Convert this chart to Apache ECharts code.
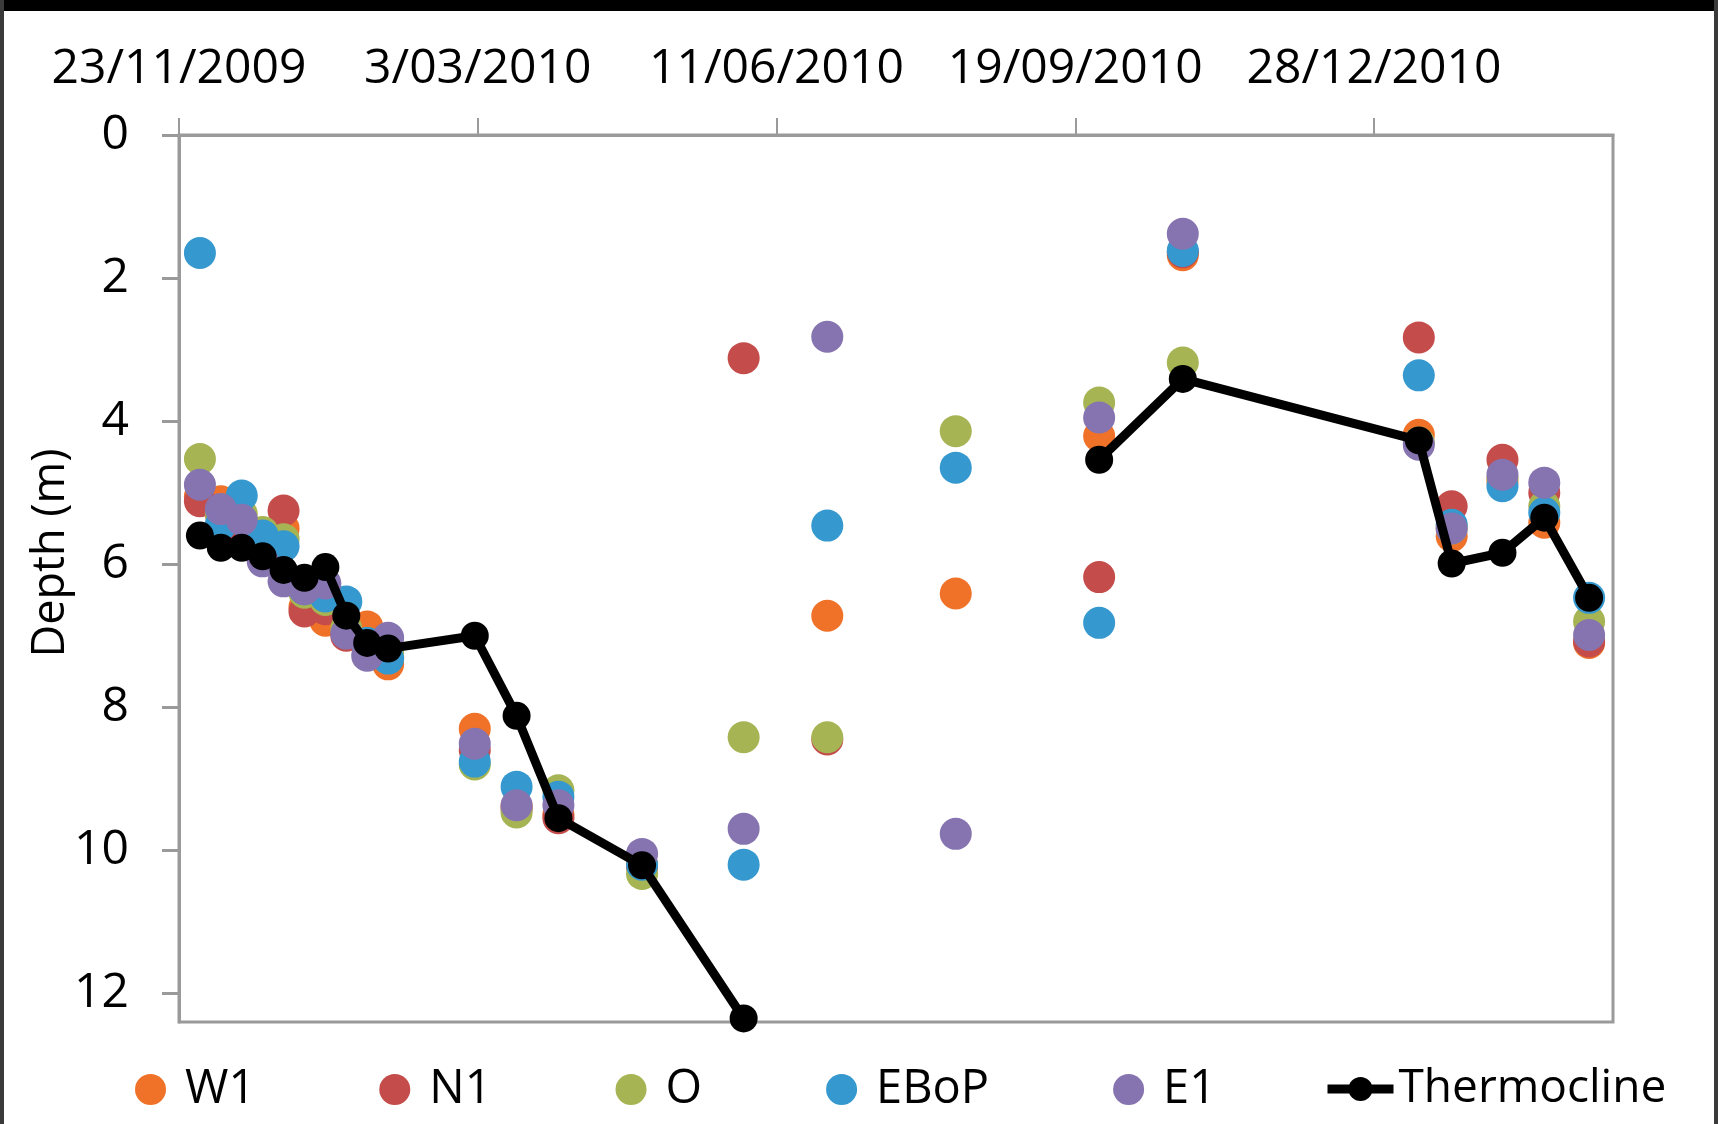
<!DOCTYPE html>
<html lang="en">
  <head>
    <meta charset="UTF-8" />
    <title>Thermocline depth</title>
    <script src="https://cdn.jsdelivr.net/npm/echarts@6/dist/echarts.min.js"></script>
    <style>
      html, body { margin: 0; padding: 0; background: #fff; }
      #main { width: 1718px; height: 1124px; }
    </style>
  </head>
  <body>
    <div id="main"></div>
    <script>
      // sampling dates
      const sampleDates = [
        '2009-11-30', '2009-12-07', '2009-12-14', '2009-12-21', '2009-12-28',
        '2010-01-04', '2010-01-11', '2010-01-18', '2010-01-25', '2010-02-01',
        '2010-03-02', '2010-03-16', '2010-03-30', '2010-04-27', '2010-05-31',
        '2010-06-28', '2010-08-10', '2010-09-27', '2010-10-25', '2011-01-12',
        '2011-01-23', '2011-02-09', '2011-02-23', '2011-03-10'
      ];
      // depth (m) per site, null = no value
      const w1 = [5.05, 5.12, 5.45, 5.7, 5.5, 6.6, 6.79, 6.9, 6.87, 7.4, 8.3, 9.38, 9.5, 10.2, null, 6.72, 6.41, 4.21, 1.68, 4.19, 5.61, 4.85, 5.42, 7.1];
      const n1 = [5.12, 5.3, 5.58, 5.75, 5.25, 6.66, 6.63, 7.0, 7.15, 7.3, 8.6, 9.42, 9.55, 10.23, 3.12, 8.45, null, 6.18, 1.64, 2.83, 5.19, 4.54, 5.0, 7.08];
      const o = [4.53, 5.3, 5.3, 5.55, 5.65, 6.4, 6.5, 6.9, 7.1, 7.25, 8.8, 9.47, 9.16, 10.33, 8.42, 8.42, 4.14, 3.74, 3.18, 4.3, 5.5, 4.8, 5.19, 6.8];
      const ebop = [1.65, 5.45, 5.04, 5.6, 5.75, 6.35, 6.45, 6.52, 7.1, 7.32, 8.76, 9.11, 9.25, 10.2, 10.2, 5.46, 4.65, 6.82, 1.62, 3.36, 5.45, 4.91, 5.28, 6.47];
      const e1 = [4.89, 5.23, 5.38, 5.96, 6.24, 6.35, 6.27, 6.97, 7.28, 7.03, 8.51, 9.37, 9.37, 10.05, 9.7, 2.82, 9.77, 3.95, 1.38, 4.33, 5.5, 4.75, 4.86, 6.99];
      const thermocline = [5.6, 5.77, 5.77, 5.89, 6.08, 6.19, 6.04, 6.72, 7.1, 7.18, 7.0, 8.12, 9.55, 10.21, 12.35, null, null, 4.54, 3.41, 4.27, 5.99, 5.84, 5.35, 6.47];

      // axis: days counted from the first date tick
      const startDate = '2009-11-23';
      const dateTicks = [0, 100, 200, 300, 400];
      const depthTicks = [0, 2, 4, 6, 8, 10, 12];

      const seriesNames = ['W1', 'N1', 'O', 'EBoP', 'E1'];
      const seriesValues = [w1, n1, o, ebop, e1];
      const colors = ['#F07229', '#C44C4A', '#A6B453', '#3598CE', '#8674B0'];

      const font = '"Open Sans", "Liberation Sans", sans-serif';
      const DAY = 86400000;

      function toMs(s) {
        const p = s.split('-').map(Number);
        return Date.UTC(p[0], p[1] - 1, p[2]);
      }
      function toDay(s) {
        return Math.round((toMs(s) - toMs(startDate)) / DAY);
      }
      function dayLabel(v) {
        const d = new Date(toMs(startDate) + v * DAY);
        const mm = String(d.getUTCMonth() + 1).padStart(2, '0');
        return d.getUTCDate() + '/' + mm + '/' + d.getUTCFullYear();
      }

      const series = seriesNames.map((name, k) => ({
        name: name,
        type: 'scatter',
        symbol: 'circle',
        symbolSize: 32,
        itemStyle: { color: colors[k], opacity: 1 },
        data: sampleDates
          .map((d, i) => [toDay(d), seriesValues[k][i]])
          .filter(p => p[1] !== null)
      }));
      series.push({
        name: 'Thermocline',
        type: 'line',
        symbol: 'circle',
        symbolSize: 28,
        connectNulls: false,
        clip: false,
        itemStyle: { color: '#000' },
        lineStyle: { color: '#000', width: 9 },
        data: sampleDates.map((d, i) => [toDay(d), thermocline[i] === null ? '-' : thermocline[i]])
      });

      const chart = echarts.init(document.getElementById('main'));
      const option = {
        animation: false,
        backgroundColor: '#fff',
        grid: {
          left: 179, right: 105, top: 135, bottom: 102,
          show: true, borderColor: '#9a9a9a', borderWidth: 3
        },
        xAxis: {
          type: 'value',
          position: 'top',
          min: 0, max: 480, interval: 100,
          axisLine: { show: true, onZero: false, lineStyle: { color: '#9a9a9a', width: 3 } },
          axisTick: { show: true, length: 17, customValues: dateTicks, lineStyle: { color: '#9a9a9a', width: 2 } },
          splitLine: { show: false },
          axisLabel: {
            customValues: dateTicks,
            formatter: dayLabel,
            margin: 42,
            fontSize: 48, fontFamily: font, color: '#000'
          }
        },
        yAxis: {
          type: 'value',
          inverse: true,
          min: 0, max: 12.4, interval: 2,
          axisLine: { show: true, lineStyle: { color: '#9a9a9a', width: 3 } },
          axisTick: { show: true, length: 17, customValues: depthTicks, lineStyle: { color: '#9a9a9a', width: 3 } },
          splitLine: { show: false },
          axisLabel: {
            customValues: depthTicks,
            margin: 50,
            fontSize: 48, fontFamily: font, color: '#000'
          }
        },
        legend: [
          {
            data: seriesNames,
            left: 130, top: 1061,
            icon: 'circle',
            itemWidth: 31, itemHeight: 31, itemGap: 124,
            selectedMode: false,
            textStyle: { fontSize: 47, fontFamily: font, color: '#000', padding: [0, 0, 0, 14] }
          },
          {
            data: ['Thermocline'],
            left: 1318, top: 1061,
            itemWidth: 66, itemHeight: 30,
            selectedMode: false,
            lineStyle: { width: 9, color: '#000' },
            textStyle: { fontSize: 46, fontFamily: font, color: '#000' }
          }
        ],
        graphic: [
          { type: 'rect', left: 0, top: 0, shape: { width: 1718, height: 11 }, style: { fill: '#000' } },
          { type: 'rect', left: 0, top: 0, shape: { width: 4, height: 1124 }, style: { fill: '#3a3a3a' } },
          { type: 'rect', right: 0, top: 0, shape: { width: 4, height: 1124 }, style: { fill: '#3a3a3a' } },
          {
            type: 'text',
            x: 51, y: 553,
            rotation: Math.PI / 2,
            style: {
              text: 'Depth (m)',
              fontSize: 45, fontFamily: font, fill: '#000',
              align: 'center', verticalAlign: 'middle'
            }
          }
        ],
        series: series
      };
      chart.setOption(option);
    </script>
  </body>
</html>
